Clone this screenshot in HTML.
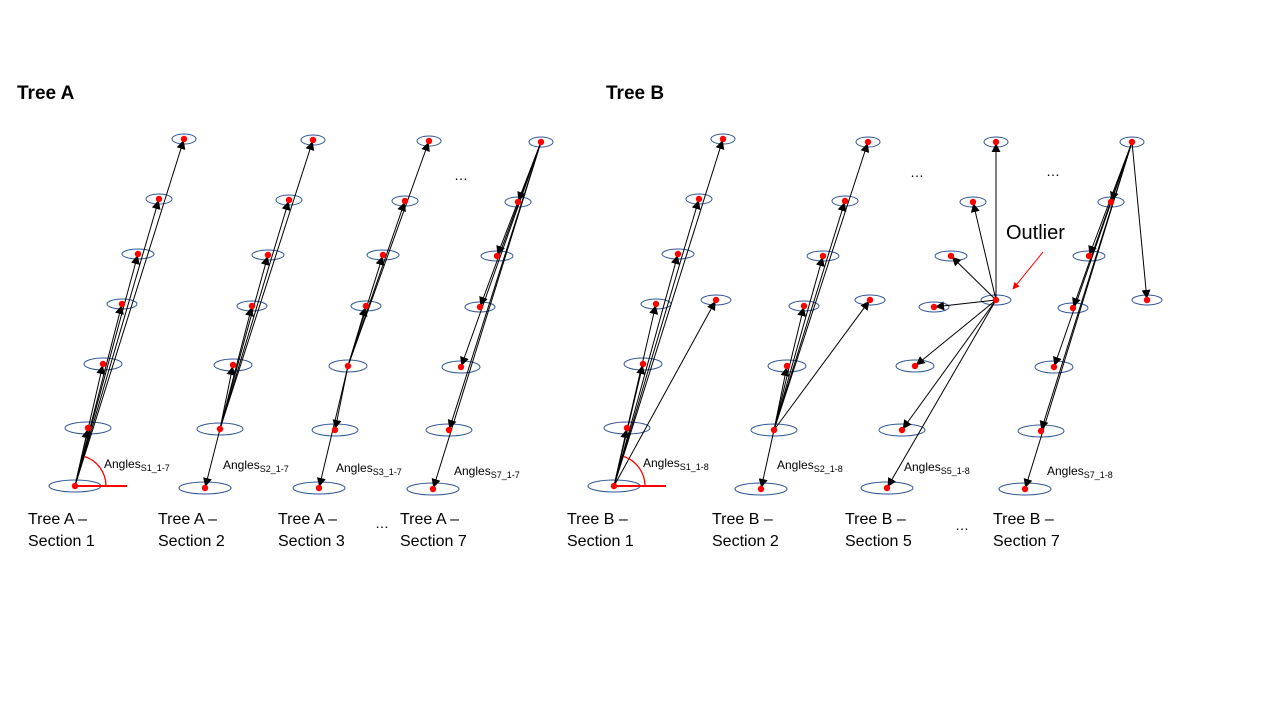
<!DOCTYPE html>
<html><head><meta charset="utf-8"><style>
html,body{margin:0;padding:0;background:#fff;}
svg{display:block;font-family:"Liberation Sans",Arial,sans-serif;}
</style></head><body>
<svg id="c" width="1280" height="720" viewBox="0 0 1280 720">
<defs>
<marker id="ah" viewBox="0 0 10 10" refX="9" refY="5" markerWidth="9" markerHeight="9" markerUnits="userSpaceOnUse" orient="auto"><path d="M0,0L10,5L0,10z" fill="#000"/></marker>
<marker id="rh" viewBox="0 0 10 10" refX="9" refY="5" markerWidth="7" markerHeight="7" markerUnits="userSpaceOnUse" orient="auto"><path d="M0,0L10,5L0,10z" fill="#f00"/></marker>
</defs>
<text x="17" y="99" font-size="19" font-weight="bold">Tree A</text>
<text x="606" y="99" font-size="19" font-weight="bold">Tree B</text>
<g id="g"></g>
<text x="1006" y="239" font-size="20">Outlier</text>
<line x1="1043" y1="252" x2="1013" y2="289" stroke="#f00" stroke-width="1" marker-end="url(#rh)"/>
<text x="375" y="528" font-size="14">…</text>
<text x="955" y="530" font-size="14">…</text>
<text x="454" y="180" font-size="14">…</text>
<text x="910" y="177" font-size="14">…</text>
<text x="1046" y="176" font-size="14">…</text>
</svg>
<script>
const sectionNames=["a-s1","a-s2","a-s3","a-s7","b-s1","b-s2","b-s5","b-s7"];
const sectionLine1=["Tree A –","Tree A –","Tree A –","Tree A –","Tree B –","Tree B –","Tree B –","Tree B –"];
const sectionLine2=["Section 1","Section 2","Section 3","Section 7","Section 1","Section 2","Section 5","Section 7"];
const labelX=[28,158,278,400,567,712,845,993];
const angleSub=["S1_1-7","S2_1-7","S3_1-7","S7_1-7","S1_1-8","S2_1-8","S5_1-8","S7_1-8"];
const angleX=[104,223,336,454,643,777,904,1047];
const angleY=[468,469,472,475,467,469,471,475];
const originIdx=[0,1,2,6,0,1,7,6];
const nodes=[
[[75,486],[88,428],[103,364],[122,304],[138,254],[159,199],[184,139]],
[[205,488],[220,429],[233,365],[252,306],[268,255],[289,200],[313,140]],
[[319,488],[335,430],[348,366],[366,306],[383,255],[405,201],[429,141]],
[[433,489],[449,430],[461,367],[480,307],[497,256],[518,202],[541,142]],
[[614,486],[627,428],[643,364],[656,304],[678,254],[699,199],[723,139],[716,300]],
[[761,489],[774,430],[787,366],[804,306],[823,256],[845,201],[868,142],[870,300]],
[[887,488],[902,430],[915,366],[934,307],[951,256],[973,202],[996,142],[996,300]],
[[1025,489],[1041,431],[1054,367],[1073,308],[1089,256],[1111,202],[1132,142],[1147,300]]
];
const levelW=[52,46,38,30,32,26,24,30];
const levelH=[12,12,12,10,10,10,10,10];
const NS="http://www.w3.org/2000/svg";
const g=document.getElementById('g');
function mk(t,a){const e=document.createElementNS(NS,t);for(const k in a)e.setAttribute(k,a[k]);g.appendChild(e);return e;}
nodes.forEach((pts,s)=>{
  pts.forEach((p,i)=>{
    const e=mk('ellipse',{cx:p[0],cy:p[1],rx:levelW[i]/2,ry:levelH[i]/2,fill:'none',stroke:'#2f5597','stroke-width':1});
    
    
  });
  const o=pts[originIdx[s]];
  pts.forEach((p,i)=>{
    if(i===originIdx[s])return;
    const dx=p[0]-o[0],dy=p[1]-o[1],L=Math.hypot(dx,dy);
    const l=mk('line',{x1:o[0],y1:o[1],x2:p[0]-dx/L*2,y2:p[1]-dy/L*2,stroke:'#000','stroke-width':1,'marker-end':'url(#ah)'});
    
    
  });
  pts.forEach(p=>{
    const d=mk('circle',{cx:p[0],cy:p[1],r:3.2,fill:'#f00'});
    
    
  });
  const t1=mk('text',{x:labelX[s],y:524,'font-size':16});t1.textContent=sectionLine1[s];
  
  
  const t2=mk('text',{x:labelX[s],y:546,'font-size':16});t2.textContent=sectionLine2[s];
  
  
  const at=mk('text',{x:angleX[s],y:angleY[s],'font-size':12});
  at.innerHTML='Angles<tspan font-size="9" dy="3">'+angleSub[s]+'</tspan>';
  
  
});
[[0],[4]].forEach(([s])=>{
  const o=nodes[s][0],p=nodes[s][6];
  const r=31,a=Math.atan2(p[1]-o[1],p[0]-o[0]);
  const l=mk('line',{x1:o[0],y1:o[1],x2:o[0]+52,y2:o[1],stroke:'#f00','stroke-width':2});
  
  
  const arc=mk('path',{d:`M${o[0]+r},${o[1]} A${r},${r} 0 0 0 ${o[0]+r*Math.cos(a)},${o[1]+r*Math.sin(a)}`,fill:'none',stroke:'#f00','stroke-width':1.3});
  
  
});
</script>
</body></html>
